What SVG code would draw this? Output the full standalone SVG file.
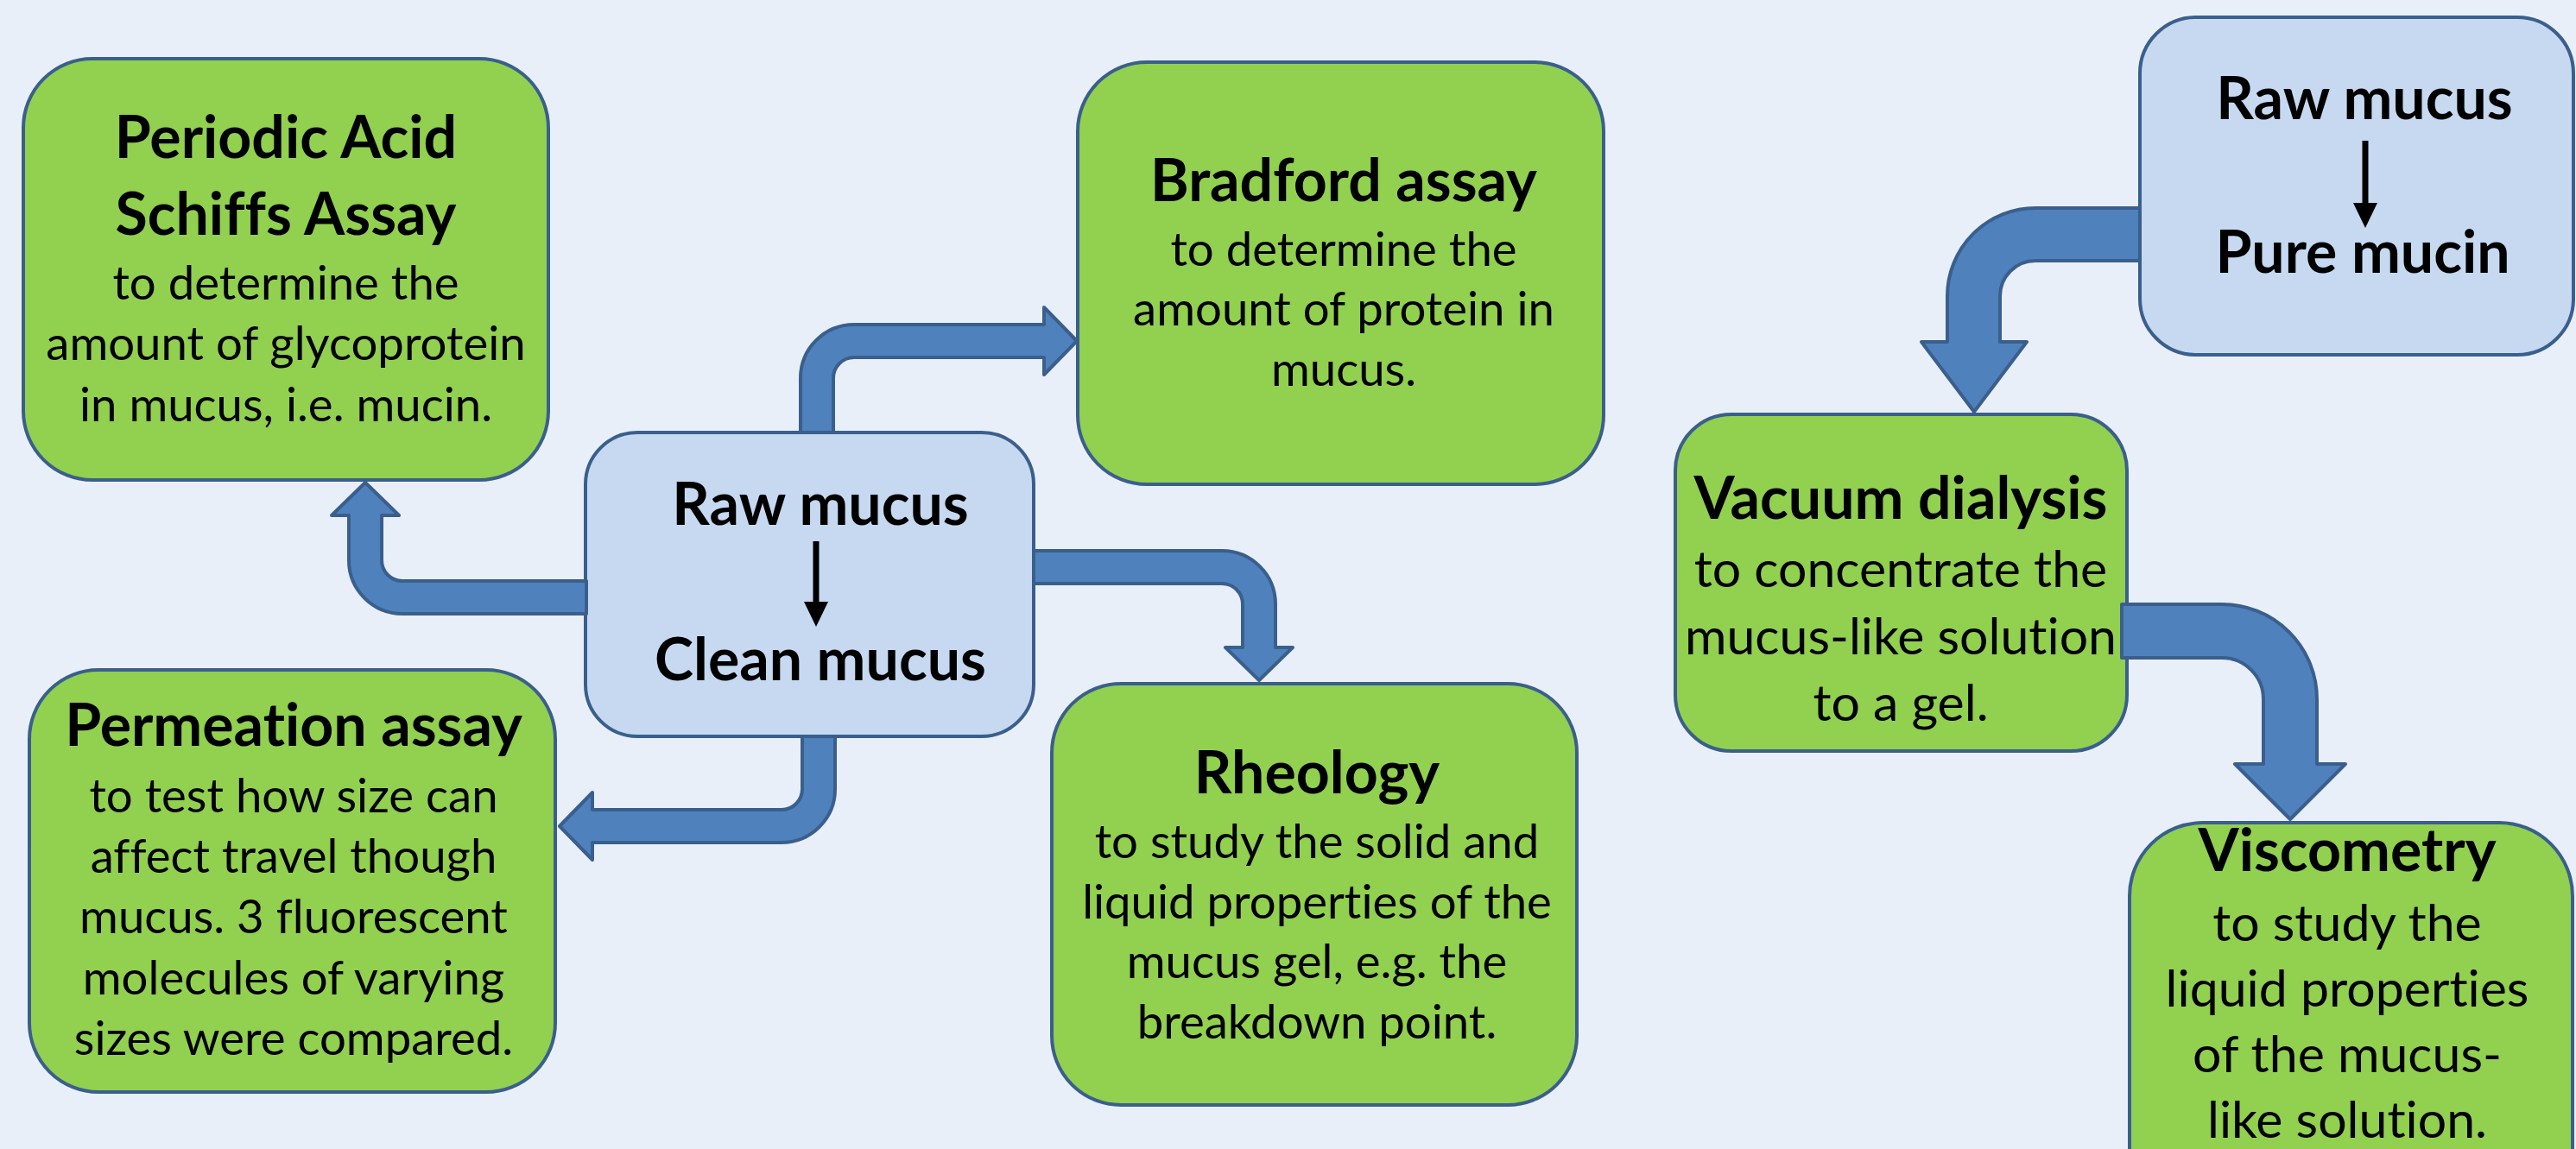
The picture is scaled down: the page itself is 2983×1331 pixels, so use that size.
<svg xmlns="http://www.w3.org/2000/svg" width="2983" height="1331" viewBox="0 0 2983 1331">
<style>
.green{fill:#92D050;stroke:#3A5F8C;stroke-width:4}
.blue{fill:#C6D9F1;stroke:#3A5F8C;stroke-width:4}
.conn path{fill:#4F81BD;stroke:#3A5F8C;stroke-width:4;stroke-linejoin:round}
text{font-family:Lato,"Liberation Sans",sans-serif;text-anchor:middle;fill:#000;font-variant-ligatures:none;font-feature-settings:"liga" 0}
.t{font-weight:bold;font-size:68px}
.b{font-size:54.5px}
.rb{font-size:59px}
.inner line{stroke:#000;stroke-width:7}
.inner polygon{fill:#000}
</style>
<rect x="0" y="0" width="2983" height="1331" fill="#E9EFF9"/>

<g id="pas">
<rect class="green" x="27" y="68" width="608" height="488" rx="80"/>
<text class="t" x="331" y="183">Periodic Acid</text>
<text class="t" x="331" y="272">Schiffs Assay</text>
<text class="b" x="331" y="347">to determine the</text>
<text class="b" x="331" y="417">amount of glycoprotein</text>
<text class="b" x="331" y="488">in mucus, i.e. mucin.</text>
</g>

<g id="bradford">
<rect class="green" x="1248" y="72" width="609" height="489" rx="80"/>
<text class="t" x="1556" y="233">Bradford assay</text>
<text class="b" x="1556" y="308">to determine the</text>
<text class="b" x="1556" y="377">amount of protein in</text>
<text class="b" x="1556" y="447">mucus.</text>
</g>

<g id="raw-clean" class="inner">
<rect class="blue" x="678" y="501" width="519" height="352" rx="60"/>
<text class="t" x="950" y="608">Raw mucus</text>
<line x1="945" y1="627" x2="945" y2="700"/>
<polygon points="931,697 959,697 945,726"/>
<text class="t" x="950" y="788">Clean mucus</text>
</g>

<g id="permeation">
<rect class="green" x="34" y="776" width="609" height="489" rx="80"/>
<text class="t" x="340" y="864">Permeation assay</text>
<text class="b" x="340" y="941">to test how size can</text>
<text class="b" x="340" y="1011">affect travel though</text>
<text class="b" x="340" y="1081">mucus. 3 fluorescent</text>
<text class="b" x="340" y="1152">molecules of varying</text>
<text class="b" x="340" y="1222">sizes were compared.</text>
</g>

<g id="rheology">
<rect class="green" x="1218" y="792" width="608" height="488" rx="80"/>
<text class="t" x="1525" y="919">Rheology</text>
<text class="b" x="1525" y="994">to study the solid and</text>
<text class="b" x="1525" y="1064">liquid properties of the</text>
<text class="b" x="1525" y="1133">mucus gel, e.g. the</text>
<text class="b" x="1525" y="1203">breakdown point.</text>
</g>

<g id="raw-pure" class="inner">
<rect class="blue" x="2478" y="20" width="502" height="391" rx="65"/>
<text class="t" x="2738" y="138">Raw mucus</text>
<line x1="2739" y1="163" x2="2739" y2="238"/>
<polygon points="2725,235 2753,235 2739,264"/>
<text class="t" x="2736" y="316">Pure mucin</text>
</g>

<g id="vacuum">
<rect class="green" x="1940" y="480" width="523" height="390" rx="65"/>
<text class="t" x="2201" y="601">Vacuum dialysis</text>
<text class="rb" x="2201" y="680">to concentrate the</text>
<text class="rb" x="2201" y="758">mucus-like solution</text>
<text class="rb" x="2201" y="835">to a gel.</text>
</g>

<g id="viscometry">
<rect class="green" x="2466" y="953" width="513" height="560" rx="85"/>
<text class="t" x="2718" y="1009">Viscometry</text>
<text class="rb" x="2718" y="1090">to study the</text>
<text class="rb" x="2718" y="1166">liquid properties</text>
<text class="rb" x="2718" y="1242">of the mucus-</text>
<text class="rb" x="2718" y="1318">like solution.</text>
</g>

<g id="connectors" class="conn">
<path d="M423,559 L462,597 H442 V649 A24,24 0 0 0 466,673 H679 V711 H466 A62,62 0 0 1 404,649 V597 H384 Z"/>
<path d="M927,501 V438 A62,62 0 0 1 989,376 H1209 V356 L1247,395 L1209,434 V414 H989 A24,24 0 0 0 965,438 V501 Z"/>
<path d="M1197,638 H1415 A62,62 0 0 1 1477,700 V750 H1497 L1458,788 L1419,750 H1439 V700 A24,24 0 0 0 1415,676 H1197 Z"/>
<path d="M929,853 V914 A24,24 0 0 1 905,938 H686 V918 L648,957 L686,996 V976 H905 A62,62 0 0 0 967,914 V853 Z"/>
<path d="M2478,241 H2357 A102,102 0 0 0 2255,343 V396 H2225 L2286,477 L2347,396 H2316 V343 A41,41 0 0 1 2357,302 H2478 Z"/>
<path d="M2457,700 H2573 A110,110 0 0 1 2683,810 V885 H2716 L2652,949 L2588,885 H2621 V810 A48,48 0 0 0 2573,762 H2457 Z"/>
</g>
</svg>
